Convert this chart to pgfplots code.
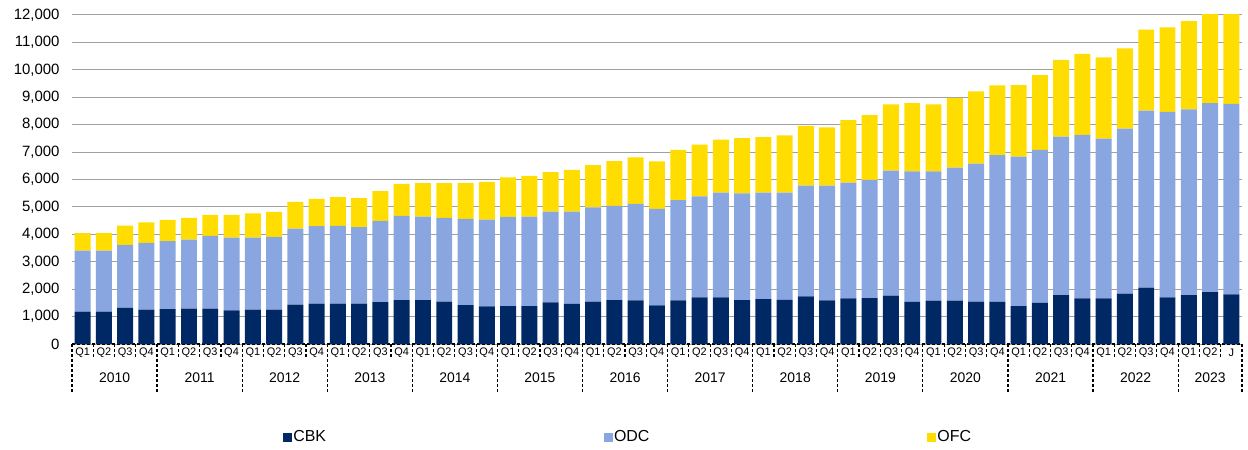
\documentclass[border=0pt]{standalone}
\usepackage{fontspec}
\setmainfont{Liberation Sans}
\usepackage{pgfplots}
\usepackage{pgfplotstable}
\pgfplotsset{compat=1.18}
\definecolor{cbk}{RGB}{0,40,100}
\definecolor{odc}{RGB}{137,166,224}
\definecolor{ofc}{RGB}{255,221,0}
\definecolor{gridgray}{RGB}{160,160,160}

% quarter index, CBK, ODC, OFC
\pgfplotstableread{
x cbk odc ofc
0 1180 2230 630
1 1180 2230 630
2 1320 2300 700
3 1250 2440 750
4 1270 2480 780
5 1290 2520 790
6 1290 2650 770
7 1230 2650 830
8 1250 2630 880
9 1250 2660 910
10 1440 2770 970
11 1470 2830 990
12 1470 2840 1050
13 1470 2790 1060
14 1530 2960 1090
15 1600 3070 1170
16 1600 3050 1220
17 1550 3050 1270
18 1420 3140 1310
19 1370 3170 1370
20 1380 3260 1440
21 1380 3270 1480
22 1520 3310 1440
23 1460 3370 1520
24 1550 3430 1540
25 1600 3440 1630
26 1590 3520 1700
27 1410 3520 1730
28 1590 3660 1830
29 1700 3680 1890
30 1700 3820 1930
31 1600 3890 2020
32 1640 3880 2030
33 1610 3910 2090
34 1740 4040 2180
35 1590 4190 2120
36 1660 4230 2280
37 1670 4320 2360
38 1760 4560 2420
39 1540 4760 2490
40 1580 4720 2440
41 1580 4850 2550
42 1550 5030 2630
43 1540 5350 2540
44 1380 5450 2610
45 1500 5580 2730
46 1780 5780 2800
47 1660 5970 2950
48 1660 5830 2960
49 1840 6020 2920
50 2060 6450 2960
51 1700 6770 3080
52 1780 6780 3220
53 1890 6900 3310
54 1810 6950 3340
}\datatable

\begin{document}
\begin{tikzpicture}
\useasboundingbox (0,0) rectangle (1248bp,450bp);
\begin{axis}[
  at={(72bp,106bp)}, anchor=south west,
  scale only axis, width=1170bp, height=329bp,
  ybar stacked, bar width=0.75,
  xmin=-0.5, xmax=54.5, ymin=0, ymax=12000,
  enlargelimits=false, clip mode=individual,
  axis line style={draw=none}, major tick length=0, tick style={draw=none},
  ymajorgrids, grid style={gridgray, line width=1bp},
  ytick={0,1000,...,12000}, scaled y ticks=false,
  /pgf/number format/1000 sep={,},
  /pgf/number format/assume math mode=true,
  yticklabel style={font=\fontsize{15}{18}\selectfont, xshift=-9bp},
  xtick={0,...,54},
  xticklabels={Q1,Q2,Q3,Q4,Q1,Q2,Q3,Q4,Q1,Q2,Q3,Q4,Q1,Q2,Q3,Q4,Q1,Q2,Q3,Q4,
    Q1,Q2,Q3,Q4,Q1,Q2,Q3,Q4,Q1,Q2,Q3,Q4,Q1,Q2,Q3,Q4,Q1,Q2,Q3,Q4,
    Q1,Q2,Q3,Q4,Q1,Q2,Q3,Q4,Q1,Q2,Q3,Q4,Q1,Q2,J},
  xticklabel style={font=\fontsize{11}{13}\selectfont, anchor=center, yshift=-9bp},
  legend columns=3,
  legend image code/.code={\fill[#1] (0bp,-4.5bp) rectangle (9bp,4.5bp);},
  legend style={at={(0.180,-0.283)}, anchor=west, draw=none, inner sep=0pt,
    font=\fontsize{16}{18}\selectfont,
    nodes={inner sep=1.5bp},
    /tikz/every even column/.append style={column sep=276bp}},
]
\addplot+[fill=cbk, draw=none] table[x=x, y=cbk] {\datatable};
\addplot+[fill=odc, draw=none] table[x=x, y=odc] {\datatable};
\addplot+[fill=ofc, draw=none] table[x=x, y=ofc] {\datatable};
\legend{CBK,ODC,OFC}

% category axis: dashed base line and separators
\draw[black, line width=1.2bp, dash pattern=on 3bp off 2bp] (axis cs:-0.5,0) -- (axis cs:54.5,0);
\pgfplotsinvokeforeach{0.5,1.5,...,53.5}{
  \draw[black, line width=1.2bp, dash pattern=on 3bp off 2bp] (axis cs:#1,0) -- ([yshift=-13bp]axis cs:#1,0);
}
\pgfplotsinvokeforeach{-0.5,3.5,...,51.5}{
  \draw[black, line width=1.2bp, dash pattern=on 3bp off 2bp] (axis cs:#1,0) -- ([yshift=-48bp]axis cs:#1,0);
}
\draw[black, line width=1.2bp, dash pattern=on 3bp off 2bp] (axis cs:54.5,0) -- ([yshift=-48bp]axis cs:54.5,0);
\pgfplotsinvokeforeach{0,...,12}{
  \node[font=\fontsize{14}{16}\selectfont, yshift=-34bp] at (axis cs:4*#1+1.5,0) {\the\numexpr2010+#1\relax};
}
\node[font=\fontsize{14}{16}\selectfont, yshift=-34bp] at (axis cs:53,0) {2023};
\end{axis}
\end{tikzpicture}
\end{document}
